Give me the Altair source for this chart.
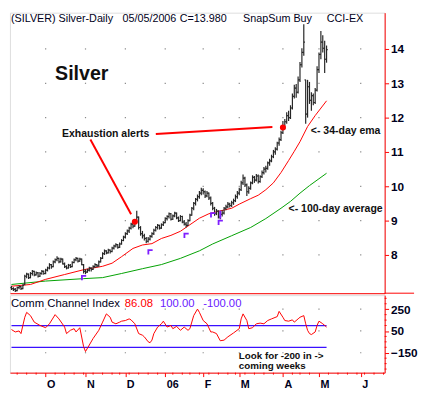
import altair as alt
import pandas as pd

# ---------------- data ----------------
opens = [7.05,7.02,7.00,6.96,7.05,7.08,7.02,7.15,7.38,7.44,7.34,7.46,7.52,7.42,7.48,7.38,7.46,7.52,
         7.46,7.56,7.62,7.72,7.66,7.80,7.86,7.90,7.80,7.88,7.74,7.66,7.62,7.70,7.66,7.78,7.86,7.90,7.82,7.88,7.72,
         7.52,7.50,7.56,7.62,7.58,7.66,7.72,7.68,7.80,7.90,8.04,8.12,8.06,8.14,8.10,8.20,8.26,8.30,8.22,8.32,8.42,
         8.52,8.62,8.70,8.78,8.90,8.84,8.98,9.10,8.80,8.62,8.56,8.48,8.40,8.46,8.54,8.62,8.72,8.80,8.86,8.78,8.88,
         8.94,9.06,9.12,9.20,9.04,9.14,9.22,9.08,9.00,9.12,8.96,8.90,8.86,9.00,9.16,9.36,9.50,9.62,9.70,9.80,
         9.88,9.84,9.72,9.80,9.66,9.50,9.36,9.20,9.28,9.10,9.18,9.22,9.36,9.40,9.48,9.44,9.52,9.58,9.70,
         9.80,9.90,10.10,10.24,10.04,9.84,9.94,10.10,10.26,10.18,10.30,10.14,10.28,10.40,10.50,10.52,10.68,10.74,10.86,11.00,11.08,11.26,11.36,
         11.56,11.74,11.88,12.06,12.00,12.28,12.62,12.86,12.74,13.10,13.54,13.90,13.10,12.10,12.90,12.50,12.64,12.44,12.80,
         13.40,13.84,14.20,14.02,13.70]
highs = [7.10,7.06,7.04,7.08,7.12,7.10,7.15,7.42,7.48,7.46,7.50,7.56,7.54,7.52,7.50,7.50,7.56,7.55,
         7.60,7.66,7.76,7.74,7.84,7.90,7.96,7.92,7.92,7.90,7.78,7.70,7.74,7.74,7.82,7.90,7.94,7.92,7.92,7.90,7.74,
         7.58,7.60,7.66,7.64,7.70,7.76,7.74,7.84,7.94,8.08,8.16,8.14,8.18,8.16,8.24,8.30,8.34,8.32,8.36,8.46,8.56,
         8.66,8.74,8.82,8.94,8.96,9.04,9.29,9.12,8.84,8.70,8.62,8.52,8.52,8.58,8.66,8.76,8.84,8.90,8.88,8.92,8.98,
         9.10,9.16,9.24,9.22,9.18,9.26,9.24,9.12,9.16,9.14,9.02,8.96,9.04,9.20,9.40,9.54,9.66,9.76,9.86,9.96,
         9.94,9.88,9.86,9.82,9.70,9.54,9.40,9.34,9.30,9.29,9.30,9.40,9.46,9.54,9.52,9.58,9.64,9.76,9.86,
         9.96,10.16,10.34,10.28,10.08,10.00,10.14,10.32,10.30,10.36,10.34,10.32,10.46,10.56,10.60,10.72,10.80,10.92,11.06,11.14,11.30,11.42,11.62,
         11.90,11.96,12.16,12.20,12.36,12.70,12.96,12.98,13.20,13.62,14.02,14.72,13.10,13.10,13.04,12.74,12.70,12.86,13.50,
         13.90,14.52,14.40,14.24,14.10]
lows = [6.98,6.95,6.92,6.94,7.00,6.98,7.00,7.12,7.32,7.30,7.32,7.40,7.38,7.40,7.34,7.36,7.42,7.42,
        7.44,7.52,7.58,7.60,7.64,7.76,7.82,7.76,7.78,7.72,7.62,7.58,7.60,7.62,7.64,7.76,7.82,7.78,7.80,7.70,7.46,
        7.44,7.48,7.52,7.52,7.56,7.62,7.64,7.66,7.78,7.88,8.00,8.02,8.04,8.04,8.08,8.16,8.22,8.18,8.20,8.30,8.40,
        8.48,8.58,8.64,8.74,8.78,8.82,8.94,8.74,8.56,8.48,8.42,8.34,8.36,8.42,8.50,8.58,8.68,8.74,8.74,8.76,8.84,
        8.92,9.00,9.06,9.00,9.02,9.10,9.04,8.96,8.98,8.92,8.86,8.80,8.84,8.98,9.14,9.30,9.44,9.56,9.64,9.74,
        9.76,9.66,9.68,9.60,9.44,9.30,9.14,9.16,9.06,9.04,9.12,9.18,9.30,9.36,9.38,9.40,9.46,9.54,9.64,
        9.74,9.86,10.04,9.98,9.72,9.78,9.90,10.06,10.10,10.14,10.08,10.10,10.24,10.34,10.40,10.48,10.60,10.70,10.82,10.92,11.04,11.18,11.32,
        11.52,11.66,11.82,11.90,11.96,12.24,12.56,12.58,12.70,13.04,13.46,13.80,11.82,12.00,12.40,12.20,12.36,12.40,12.76,
        13.30,13.70,13.90,13.30,13.60]
closes = [7.02,7.00,6.96,7.05,7.08,7.02,7.12,7.38,7.44,7.34,7.46,7.52,7.42,7.48,7.38,7.46,7.52,7.46,
          7.56,7.62,7.72,7.66,7.80,7.86,7.90,7.80,7.88,7.74,7.66,7.62,7.70,7.66,7.78,7.86,7.90,7.82,7.88,7.72,7.52,
          7.50,7.56,7.62,7.58,7.66,7.72,7.68,7.80,7.90,8.04,8.12,8.06,8.14,8.10,8.20,8.26,8.30,8.22,8.32,8.42,8.52,
          8.62,8.70,8.78,8.90,8.84,8.98,9.10,8.80,8.62,8.56,8.48,8.40,8.46,8.54,8.62,8.72,8.80,8.86,8.78,8.88,8.94,
          9.06,9.12,9.20,9.04,9.14,9.22,9.08,9.00,9.12,8.96,8.90,8.86,9.00,9.16,9.36,9.50,9.62,9.70,9.80,9.88,
          9.84,9.72,9.80,9.66,9.50,9.36,9.20,9.28,9.10,9.18,9.22,9.36,9.40,9.48,9.44,9.52,9.58,9.70,9.80,
          9.90,10.10,10.24,10.04,9.84,9.94,10.10,10.26,10.18,10.30,10.14,10.28,10.40,10.50,10.52,10.68,10.74,10.86,11.00,11.08,11.26,11.36,11.56,
          11.74,11.88,12.06,12.00,12.28,12.62,12.86,12.74,13.10,13.54,13.90,14.20,12.10,12.90,12.50,12.64,12.44,12.80,13.40,
          13.84,14.20,14.02,13.70,13.98]

ema_idx = [0,10,18,28,38,48,53,58,64,69,74,79,84,89,94,99,104,109,116,120,126,130,134,138,142,146,149,152,156,160,166]
ema_val = [7.09,7.14,7.29,7.43,7.57,7.67,7.76,7.95,8.19,8.29,8.33,8.48,8.57,8.69,8.88,9.07,9.20,9.27,9.36,9.48,
           9.64,9.74,9.90,10.10,10.40,10.75,11.02,11.30,11.74,12.06,12.49]
sma_idx = [0,18,38,48,58,69,79,89,99,106,116,126,134,142,147,152,157,162,166]
sma_val = [7.14,7.24,7.31,7.34,7.46,7.60,7.72,7.90,8.12,8.32,8.56,8.80,9.06,9.36,9.56,9.80,10.02,10.22,10.38]

cci_idx = [0,2,4,5,7,8,10,12,15,18,20,23,25,28,29,31,33,34,36,38,39,41,43,46,48,50,52,53,55,57,58,60,62,63,65,
           67,69,70,72,73,74,75,77,79,80,82,84,85,87,89,91,93,94,96,98,99,101,103,105,106,108,110,112,114,117,
           120,121,122,124,125,127,129,131,133,135,137,140,141,143,144,146,148,149,151,152,154,155,156,157,158,
           160,161,162,164,165,166]
cci_val = [63,41,50,26,176,221,191,131,101,80,116,200,161,86,26,56,71,41,80,-94,-139,-79,-19,56,131,207,176,131,
           116,131,140,146,161,152,116,26,11,-4,-49,-58,-34,26,86,116,140,86,101,71,92,56,86,56,71,191,251,221,146,
           116,41,41,26,-40,-34,-4,32,71,161,207,146,71,80,116,122,116,146,161,182,230,176,146,140,152,131,161,176,
           191,116,56,26,17,41,101,140,116,101,86]
cci_levels = [100, -100]

alert_idx = [65, 143]
alert_val = [8.97, 11.71]
flag_idx = [38, 73, 92, 106, 110]
flag_val = [7.34, 8.09, 8.57, 9.17, 8.95]
hl_idx = [110]
hl_lo = [9.06]
hl_hi = [9.29]

month_idx = [18, 39, 60, 81, 101, 120, 143, 162, 184]
month_lbl = ["O", "N", "D", "06", "F", "M", "A", "M", "J"]
week_idx = [3, 8, 13, 23, 28, 33, 38, 43, 48, 53, 57, 62, 67, 72, 77, 85, 90, 94, 99, 104, 109, 114,
            118, 123, 128, 133, 138, 148, 152, 157, 167, 172, 177, 182, 186, 191, 196]
price_ticks = [8, 9, 10, 11, 12, 13, 14]
cci_ticks = [250, 50, -150]
cci_minor = [350, 300, 200, 150, 100, 0, -50, -100, -200, -250, -300]

# ---------------- layout ----------------
W, HM, HC = 382, 286, 79
XDOM = [-0.8, 196.6]
YDOM = [6.886, 15.057]
CDOM = [-333, 379]
FONT = "Liberation Sans"
RED = "#FF0000"
INK = "#000020"
PURPLE = "#7F1FFF"
BLUE = "#3A10FF"
BAR = "#262626"


def X(rx):
    # reference pixel x -> plot x, following the data scale
    return 0.9867 * (rx - 5.4) + 1.55


def TX(rx):
    # reference pixel x -> plot x for free-standing text
    return max(1.0, rx - 8)


xs = alt.Scale(domain=XDOM, nice=False, zero=False)
ys = alt.Scale(domain=YDOM, nice=False, zero=False)
cs = alt.Scale(domain=CDOM, nice=False, zero=False)

x_axis_main = alt.Axis(orient="bottom", labels=False, ticks=False, domain=True, domainColor=RED,
                       grid=False, title=None)
lbl_expr = "".join(f"datum.value=={m}?'{l}':" for m, l in zip(month_idx, month_lbl)) + "''"
x_axis_cci = alt.Axis(orient="bottom", values=month_idx, labelExpr=lbl_expr, domainColor=RED,
                      tickColor=RED, tickSize=4, labelAlign="left", labelPadding=2, labelOffset=1,
                      labelFont=FONT, labelFontSize=11, labelFontWeight="bold", labelColor=INK,
                      labelOverlap=False, labelBound=False, labelFlush=False, grid=False, title=None)
y_axis_main = alt.Axis(orient="right", values=price_ticks, domainColor=RED, tickColor=RED, tickSize=4,
                       labelPadding=2, labelFont=FONT, labelFontSize=12, labelFontWeight="bold",
                       labelColor=INK, grid=False, title=None)
y_axis_cci = alt.Axis(orient="right", values=cci_ticks, domainColor=RED, tickColor=RED, tickSize=4,
                      labelPadding=2, labelFont=FONT, labelFontSize=12, labelFontWeight="bold",
                      labelColor=INK, grid=False, title=None, labelOverlap=False)


def XM(f):
    return alt.X(f, type="quantitative", scale=xs, axis=x_axis_main)


def YM(f):
    return alt.Y(f, type="quantitative", scale=ys, axis=y_axis_main)


def XC(f):
    return alt.X(f, type="quantitative", scale=xs, axis=x_axis_cci)


def YC(f):
    return alt.Y(f, type="quantitative", scale=cs, axis=y_axis_cci)


def txt(s, rx, y, size, weight="normal", color=INK):
    return alt.Chart(alt.Data(values=[{"t": s}])).mark_text(
        text=s, align="left", baseline="alphabetic", font=FONT, fontSize=size,
        fontWeight=weight, color=color).encode(x=alt.value(TX(rx)), y=alt.value(y))


def seg(x1, y1, x2, y2, color=RED, width=2):
    return alt.Chart(alt.Data(values=[{"a": 1}])).mark_rule(color=color, strokeWidth=width).encode(
        x=alt.value(TX(x1)), y=alt.value(y1), x2=alt.value(X(x2)), y2=alt.value(y2))


# ---------------- main panel ----------------
n = len(closes)
bars = pd.DataFrame({"i": list(range(n)), "o": opens, "h": highs, "l": lows, "c": closes})
dots = pd.DataFrame([(m, v) for m in month_idx for v in price_ticks], columns=["i", "v"])
ema = pd.DataFrame({"i": ema_idx, "v": ema_val})
sma = pd.DataFrame({"i": sma_idx, "v": sma_val})
alerts = pd.DataFrame({"i": alert_idx, "v": alert_val})
flags = pd.DataFrame({"i": flag_idx, "v": flag_val})
hls = pd.DataFrame({"i": hl_idx, "lo": hl_lo, "hi": hl_hi})

base_bars = alt.Chart(bars)
hl_rule = base_bars.mark_rule(color=BAR, strokeWidth=1.2).encode(x=XM("i"), y=YM("l"), y2="h")
open_tick = base_bars.transform_calculate(x0="datum.i - 0.6").mark_rule(
    color=BAR, strokeWidth=1.2).encode(x=XM("x0"), x2="i", y=YM("o"))
close_tick = base_bars.transform_calculate(x1="datum.i + 0.6").mark_rule(
    color=BAR, strokeWidth=1.2).encode(x=XM("i"), x2="x1", y=YM("c"))

dot_layer = alt.Chart(dots).mark_square(size=1.5, color="#8a8a8a", opacity=1).encode(x=XM("i"), y=YM("v"))
sma_line = alt.Chart(sma).mark_line(color="#00A000", strokeWidth=1).encode(x=XM("i"), y=YM("v"))
ema_line = alt.Chart(ema).mark_line(color=RED, strokeWidth=1).encode(x=XM("i"), y=YM("v"))
alert_layer = alt.Chart(alerts).mark_circle(size=38, color=RED, opacity=1).encode(x=XM("i"), y=YM("v"))
flag_layer = alt.Chart(flags).mark_point(shape="M-1,-1H1V-0.3H-0.3V1H-1Z", size=28, filled=True,
                                         color=PURPLE, opacity=1).encode(x=XM("i"), y=YM("v"))
hl_layer = alt.Chart(hls).mark_rule(color=PURPLE, strokeWidth=2).encode(x=XM("i"), y=YM("lo"), y2="hi")

sep_ext = alt.Chart(alt.Data(values=[{"a": 1}])).mark_rule(color=RED, strokeWidth=1).encode(
    x=alt.value(W), x2=alt.value(W + 30), y=alt.value(HM))

main_texts = [
    txt("(SILVER) Silver-Daily", 5, 9.5, 11),
    txt("05/05/2006", 122.7, 9.5, 11),
    txt("C=13.980", 181, 9.5, 11),
    txt("SnapSum Buy", 245.7, 9.5, 11),
    txt("CCI-EX", 331, 9.5, 11),
    txt("Silver", 54, 68.5, 20, "bold", "#101010"),
    txt("Exhaustion alerts", 61, 127, 10.7, "bold", "#101010"),
    txt("<- 34-day ema", 314.7, 124, 10.7, "bold", "#101010"),
    txt("<- 100-day average", 292, 203.5, 10.7, "bold", "#101010"),
]
arrows = [seg(90, 129.3, 129, 205.5), seg(156.7, 123.7, 275, 116.5)]

main = alt.layer(dot_layer, sma_line, ema_line, hl_rule, open_tick, close_tick, hl_layer,
                 alert_layer, flag_layer, *arrows, *main_texts, sep_ext).properties(width=W, height=HM)

# ---------------- CCI panel ----------------
cci = pd.DataFrame({"i": cci_idx, "v": cci_val})
lv = pd.DataFrame([(0, v) for v in cci_levels] + [(n - 1, v) for v in cci_levels], columns=["i", "v"])
cdots = pd.DataFrame([(m, v) for m in month_idx for v in cci_ticks], columns=["i", "v"])
weeks = pd.DataFrame({"i": week_idx})
cminor = pd.DataFrame({"v": cci_minor})

c_dots = alt.Chart(cdots).mark_square(size=1.5, color="#8a8a8a", opacity=1).encode(x=XC("i"), y=YC("v"))
c_levels = alt.Chart(lv).mark_line(color=BLUE, strokeWidth=1.3).encode(
    x=XC("i"), y=YC("v"), detail="v:N")
c_line = alt.Chart(cci).mark_line(color=RED, strokeWidth=1).encode(x=XC("i"), y=YC("v"))
c_week = alt.Chart(weeks).mark_rule(color=RED, strokeWidth=1).encode(
    x=XC("i"), y=alt.value(HC), y2=alt.value(HC + 2))
c_minor = alt.Chart(cminor).mark_rule(color=RED, strokeWidth=1).encode(
    y=YC("v"), x=alt.value(W), x2=alt.value(W + 2))

c_texts = [
    txt("Comm Channel Index", 5, 12, 11.5),
    txt("86.08", 125, 12, 11.5, "normal", RED),
    txt("100.00", 161, 12, 11.5, "normal", "#6A20FF"),
    txt("-100.00", 205, 12, 11.5, "normal", "#6A20FF"),
    txt("Look for -200 in ->", 241.3, 65, 10, "bold", "#101010"),
    txt("coming weeks", 241.3, 75.5, 10, "bold", "#101010"),
]

cci_panel = alt.layer(c_dots, c_levels, c_line, c_week, c_minor, *c_texts).properties(width=W, height=HC)

chart = alt.vconcat(main, cci_panel, spacing=0).properties(padding=0).configure_view(
    stroke=None).configure(background="white")

chart.save("out.html", embed_options={"renderer": "svg", "actions": False})
